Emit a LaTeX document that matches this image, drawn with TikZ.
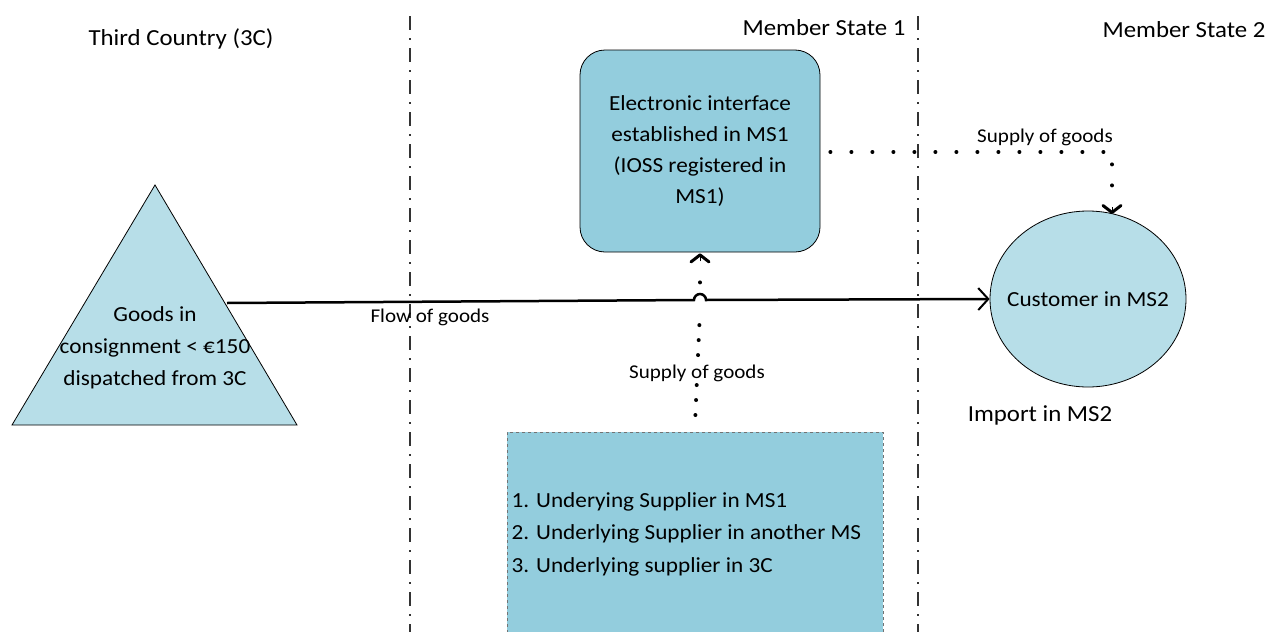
\documentclass[tikz,border=0pt]{standalone}
\usepackage{fontspec}
\setmainfont{Carlito}[FakeStretch=1.08]
\usetikzlibrary{shapes.geometric,arrows.meta,calc}
\definecolor{boxblue}{HTML}{93CDDD}
\definecolor{lightblue}{HTML}{B7DEE8}
\tikzset{
  big/.style={font=\fontsize{23}{31}\selectfont},
  body/.style={font=\fontsize{21.5}{31}\selectfont},
  small/.style={font=\fontsize{19.5}{24}\selectfont},
  divider/.style={draw=black!80, line width=1.5pt, dash pattern=on 14pt off 8pt on 2pt off 8pt},
  dotline/.style={line width=4pt, line cap=round, dash pattern=on 0pt off 21pt},
  dotlinev/.style={line width=4pt, line cap=round, dash pattern=on 0pt off 15pt},
  chev/.style={-{Straight Barb[length=7pt,width=18pt,line width=3pt,round]}},
}
\begin{document}
\begin{tikzpicture}[x=1pt,y=1pt]
\useasboundingbox (0,0) rectangle (1283,-632);
\clip (0,0) rectangle (1283,-632);
% dividers
\draw[divider] (410,-16) -- (410,-640);
\draw[divider] (918,-16) -- (918,-640);
% headings
\node[big] (h1) at (181,-39) {Third Country (3C)};
\node[big] (h2) at (824,-28) {Member State 1};
\node[big] (h3) at (1184,-30) {Member State 2};
% triangle
\coordinate (ta) at (155,-185);
\coordinate (tl) at (12,-425);
\coordinate (tr) at (297,-425);
\draw[fill=lightblue, line width=0.8pt] (ta) -- (tr) -- (tl) -- cycle;
\node[align=center, font=\fontsize{21.5}{32}\selectfont] (goods) at (155,-348) {Goods in\\consignment < €150\\dispatched from 3C};
\coordinate (tstart) at (227,-303);
% rounded rect
\node[body, draw, line width=0.8pt, fill=boxblue, rounded corners=25pt, minimum width=240pt, minimum height=202pt, align=center] (ei) at (700,-151) {Electronic interface\\established in MS1\\(IOSS registered in\\MS1)};
% ellipse
\node[ellipse, draw, line width=0.8pt, fill=lightblue, minimum width=196pt, minimum height=176pt, inner sep=0pt] (cust) at (1088,-299) {};
\node[body] (custtext) at (cust.center) {Customer in MS2};
\node[big] (imp) at (1040,-415) {Import in MS2};
% bottom box
\node[draw=black!55, dashed, line width=0.8pt, fill=boxblue, minimum width=376pt, minimum height=220pt, anchor=north west] (sup) at (507,-432) {};
\node[align=left, anchor=west, font=\fontsize{21.5}{32.5}\selectfont] (suptext) at (508,-534) {1. Underying Supplier in MS1\\2. Underlying Supplier in another MS\\3. Underlying supplier in 3C};
% flow of goods
\draw[line width=2.5pt, -{Straight Barb[length=10pt,width=22pt,line width=2pt]}] (tstart) -- (694,-300) arc[start angle=180,end angle=0,radius=6] -- (cust.west);
\node[small] (flow) at (430,-317) {Flow of goods};
% supply vertical (interrupted at the hop)
\draw[dotlinev] ([yshift=17pt]sup.north) -- ([yshift=-58pt]ei.south);
\draw[dotlinev] ([yshift=-30pt]ei.south) -- ([yshift=-15pt]ei.south);
\draw[chev] ([yshift=-9pt]ei.south) -- ([yshift=-1pt]ei.south);
\node[small, fill=white, inner sep=1pt] (s1) at (697,-373) {Supply of goods};
% supply horizontal
\coordinate (hs) at ($(ei.east)+(10,-1)$);
\coordinate (ce) at (1112,-215);
\draw[dotline] (hs) -- (1112,-152) -- ($(ce)+(0,22)$);
\draw[chev] ($(ce)+(0,8)$) -- ($(ce)+(0,1)$);
\node[small] (s2) at (1045,-137) {Supply of goods};
\end{tikzpicture}
\end{document}
